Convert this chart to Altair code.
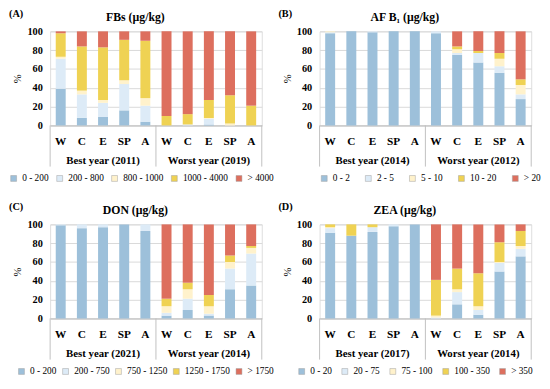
import altair as alt
import pandas as pd

FONT = "Liberation Serif"
regions = ["W", "C", "E", "SP", "A"]
colors = ["#9DC0DA", "#DDEBF7", "#FFF2CC", "#EFD253", "#DD6F5E"]

# Panel A - FBs
a_letter = "(A)"
a_title = "FBs (µg/kg)"
a_groups = ["Best year (2011)", "Worst year (2019)"]
a_cats = ["0 - 200", "200 - 800", "800 - 1000", "1000 - 4000", "> 4000"]
a_c1 = [39, 8, 9, 16, 4, 0, 0, 1, 0, 0]
a_c2 = [32, 25, 15, 28, 17, 0, 1, 6, 0, 0]
a_c3 = [2, 4, 3, 4, 8, 0, 0, 1, 2, 0]
a_c4 = [25, 47, 56, 43, 61, 10, 11, 19, 30, 21]
a_c5 = [2, 16, 17, 9, 10, 90, 88, 73, 68, 79]

# Panel B - AF B1
b_letter = "(B)"
b_title = "AF B\u2081 (µg/kg)"
b_groups = ["Best year (2014)", "Worst year (2012)"]
b_cats = ["0 - 2", "2 - 5", "5 - 10", "10 - 20", "> 20"]
b_c1 = [98, 100, 99, 100, 100, 98, 75, 67, 56, 28]
b_c2 = [1, 0, 1, 0, 0, 2, 2, 10, 7, 5]
b_c3 = [1, 0, 0, 0, 0, 0, 4, 0, 8, 10]
b_c4 = [0, 0, 0, 0, 0, 0, 3, 2, 6, 6]
b_c5 = [0, 0, 0, 0, 0, 0, 16, 21, 23, 51]

# Panel C - DON
c_letter = "(C)"
c_title = "DON (µg/kg)"
c_groups = ["Best year (2021)", "Worst year (2014)"]
c_cats = ["0 - 200", "200 - 750", "750 - 1250", "1250 - 1750", "> 1750"]
c_c1 = [99, 96, 97, 100, 93, 3, 9, 3, 31, 35]
c_c2 = [1, 4, 3, 0, 7, 3, 12, 2, 22, 34]
c_c3 = [0, 0, 0, 0, 0, 7, 10, 8, 7, 6]
c_c4 = [0, 0, 0, 0, 0, 8, 7, 12, 7, 2]
c_c5 = [0, 0, 0, 0, 0, 79, 62, 75, 33, 23]

# Panel D - ZEA
d_letter = "(D)"
d_title = "ZEA (µg/kg)"
d_groups = ["Best year (2017)", "Worst year (2014)"]
d_cats = ["0 - 20", "20 - 75", "75 - 100", "100 - 350", "> 350"]
d_c1 = [91, 88, 92, 98, 100, 0, 15, 4, 50, 66]
d_c2 = [5, 0, 5, 2, 0, 1, 13, 5, 9, 8]
d_c3 = [1, 0, 0, 0, 0, 2, 3, 4, 1, 3]
d_c4 = [3, 12, 3, 0, 0, 38, 22, 35, 21, 16]
d_c5 = [0, 0, 0, 0, 0, 59, 47, 52, 19, 7]

W, H = 216, 96
keys = [f"{g}{r}" for g in (1, 2) for r in regions]


def panel(letter, title, groups, cats, series, legend_x, col_pad):
    rows = []
    for gi in range(2):
        for ri, r in enumerate(regions):
            for ci, cat in enumerate(cats):
                rows.append({"key": f"{gi+1}{r}", "cat": cat, "idx": ci,
                             "value": series[ci][gi * 5 + ri]})
    df = pd.DataFrame(rows)
    xscale = alt.Scale(domain=keys, padding=0)

    bars = alt.Chart(df).mark_bar(width=alt.RelativeBandSize(0.47)).encode(
        x=alt.X("key:N", sort=keys, scale=xscale, title=None,
                axis=alt.Axis(labelExpr="substring(datum.value, 1)", labelAngle=0,
                              ticks=False, domainColor="#BFBFBF", grid=False,
                              labelFont=FONT, labelFontSize=11.5, labelFontWeight="bold",
                              labelColor="black", labelPadding=10)),
        y=alt.Y("value:Q", stack="zero", scale=alt.Scale(domain=[0, 100], nice=False),
                axis=alt.Axis(values=[0, 20, 40, 60, 80, 100], domain=False, ticks=False,
                              grid=True, gridColor="#D9D9D9", labelFont=FONT,
                              labelFontSize=10.5, labelFontWeight="bold", labelColor="black",
                              labelPadding=8, title="%", titleFont=FONT, titleFontSize=11,
                              titleFontWeight="normal", titleColor="black", titlePadding=4)),
        color=alt.Color("cat:N", scale=alt.Scale(domain=cats, range=colors),
                        legend=alt.Legend(orient="none", legendX=legend_x, legendY=H + 49,
                                          direction="horizontal", columns=5, title=None,
                                          symbolType="square", symbolSize=36,
                                          symbolStrokeColor="#A0A0A0", symbolStrokeWidth=0.5,
                                          labelFont=FONT, labelFontSize=9.5, labelColor="black",
                                          labelOffset=4, columnPadding=col_pad)),
        order=alt.Order("idx:Q", sort="ascending"),
    )

    gdf = pd.DataFrame({"key": ["1E", "2E"], "label": groups})
    glab = alt.Chart(gdf).mark_text(font=FONT, fontSize=11, fontWeight="bold",
                                    baseline="middle", color="black").encode(
        x=alt.X("key:N", sort=keys, scale=xscale), y=alt.value(H + 36), text="label:N")

    ldf = pd.DataFrame({"key": ["1W", "2W"]})
    lrules = alt.Chart(ldf).mark_rule(color="#BFBFBF").encode(
        x=alt.X("key:N", sort=keys, scale=xscale, bandPosition=0),
        y=alt.value(H), y2=alt.value(H + 42))
    rdf = pd.DataFrame({"key": ["2A"]})
    rrules = alt.Chart(rdf).mark_rule(color="#BFBFBF").encode(
        x=alt.X("key:N", sort=keys, scale=xscale, bandPosition=1),
        y=alt.value(H), y2=alt.value(H + 42))

    tdf = pd.DataFrame({"letter": [letter], "title": [title]})
    let = alt.Chart(tdf).mark_text(font=FONT, fontSize=10.5, fontWeight="bold", align="left",
                                   baseline="top", color="black").encode(
        x=alt.value(-42), y=alt.value(-23), text="letter:N")
    tit = alt.Chart(tdf).mark_text(font=FONT, fontSize=12, fontWeight="bold", align="center",
                                   baseline="top", color="black").encode(
        x=alt.value(87), y=alt.value(-20), text="title:N")

    return alt.layer(bars, lrules, rrules, glab, let, tit).properties(width=W, height=H)


pa = panel(a_letter, a_title, a_groups, a_cats, [a_c1, a_c2, a_c3, a_c4, a_c5], -42, 6)
pb = panel(b_letter, b_title, b_groups, b_cats, [b_c1, b_c2, b_c3, b_c4, b_c5], 0, 14)
pc = panel(c_letter, c_title, c_groups, c_cats, [c_c1, c_c2, c_c3, c_c4, c_c5], -34, 4)
pd_ = panel(d_letter, d_title, d_groups, d_cats, [d_c1, d_c2, d_c3, d_c4, d_c5], -23, 8)

chart = alt.concat(pa, pb, pc, pd_, columns=2, spacing={"row": 101, "column": 59},
                   bounds="flush").resolve_scale(color="independent").resolve_legend(
    color="independent").properties(
    padding={"top": -4, "left": 0, "right": 0, "bottom": 0}).configure_view(
    stroke=None).configure(font=FONT)

chart.save("out.html", embed_options={"renderer": "svg", "actions": False})
